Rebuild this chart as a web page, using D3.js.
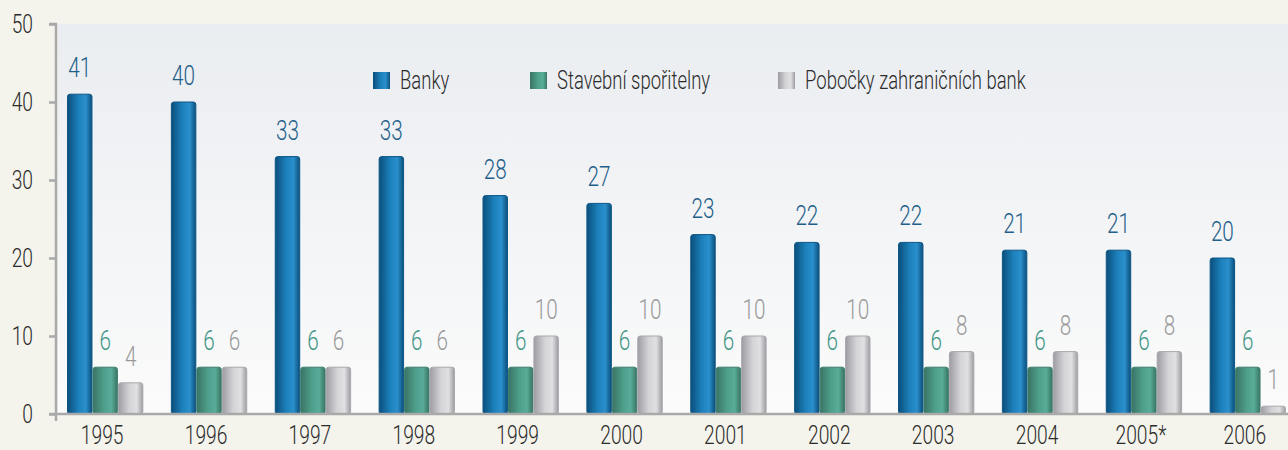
<!DOCTYPE html>
<html>
<head>
<meta charset="utf-8">
<script src="https://cdn.jsdelivr.net/npm/d3@7"></script>
<style>
  body { margin: 0; background: #f4f4ec; }
  svg { display: block; font-family: Roboto, "DejaVu Sans", sans-serif; font-weight: 300; }
</style>
</head>
<body>
<svg></svg>
<script>
const [WIDTH, HEIGHT] = [1288, 450];
const [LEFT, TOP, BOTTOM, RIGHT_END] = [56, 24, 414, 1297];
const SQUEEZE = 0.74; // the original uses a condensed face

const years = ["1995", "1996", "1997", "1998", "1999", "2000", "2001", "2002", "2003", "2004", "2005*", "2006"];
const seriesNames = ["Banky", "Stavební spořitelny", "Pobočky zahraničních bank"];
const banky = [41, 40, 33, 33, 28, 27, 23, 22, 22, 21, 21, 20];
const sporitelny = [6, 6, 6, 6, 6, 6, 6, 6, 6, 6, 6, 6];
const pobocky = [4, 6, 6, 6, 10, 10, 10, 10, 8, 8, 8, 1];
const yTicks = [0, 10, 20, 30, 40, 50];

const seriesValues = [banky, sporitelny, pobocky];
const seriesColors = [
  { dark: "#0b4f7c", mid: "#1c80bb", light: "#2a8fcb", stroke: "#0d5686", label: "#1f5f8a" },
  { dark: "#3a7465", mid: "#4e9f8b", light: "#58ad98", stroke: "#3d7e6e", label: "#3e9685" },
  { dark: "#9c9ca2", mid: "#d4d4d8", light: "#e0e0e3", stroke: "#a8a8ad", label: "#9a9a9a" },
];

// place squeezed text at (x, y)
const squeezeAt = (x, y) => `translate(${x},${y}) scale(${SQUEEZE},1)`;

const svg = d3.select("svg").attr("width", WIDTH).attr("height", HEIGHT);
const defs = svg.append("defs");

// plot background gradient
const bg = defs.append("linearGradient").attr("id", "plotBg")
  .attr("x1", 0).attr("y1", 0).attr("x2", 0).attr("y2", 1);
bg.append("stop").attr("offset", "0%").attr("stop-color", "#eaedf1");
bg.append("stop").attr("offset", "100%").attr("stop-color", "#fbfbfb");

// bar gradients
seriesColors.forEach((c, i) => {
  const g = defs.append("linearGradient").attr("id", `barGrad${i}`)
    .attr("x1", 0).attr("y1", 0).attr("x2", 1).attr("y2", 0);
  g.append("stop").attr("offset", "0%").attr("stop-color", c.dark);
  g.append("stop").attr("offset", "45%").attr("stop-color", c.mid);
  g.append("stop").attr("offset", "75%").attr("stop-color", c.light);
  g.append("stop").attr("offset", "100%").attr("stop-color", c.dark);
});

const y = d3.scaleLinear().domain([0, 50]).range([BOTTOM, TOP]);
const x0 = d3.scaleBand().domain(years).range([LEFT, RIGHT_END])
  .paddingInner(0.265).paddingOuter(0.106);
const x1 = d3.scaleBand().domain(d3.range(3)).range([0, x0.bandwidth()]);

svg.append("rect")
  .attr("x", LEFT + 2).attr("y", TOP)
  .attr("width", WIDTH - LEFT - 2).attr("height", BOTTOM - TOP)
  .attr("fill", "url(#plotBg)");

// Y axis
const yAxis = svg.append("g").attr("transform", `translate(${LEFT},0)`)
  .call(d3.axisLeft(y).tickValues(yTicks).tickSize(7));
yAxis.select(".domain").attr("stroke", "#a9a9a9").attr("stroke-width", 2.5)
  .attr("d", `M-7,${TOP}H0V${BOTTOM + 7}`);
yAxis.selectAll(".tick line").attr("stroke", "#a9a9a9").attr("stroke-width", 2.5);
yAxis.selectAll(".tick text").remove();

svg.selectAll("text.ytick")
  .data(yTicks)
  .enter()
  .append("text")
  .classed("ytick", true)
  .attr("transform", (d) => squeezeAt(33, y(d) + 9))
  .attr("text-anchor", "end")
  .attr("font-size", 26)
  .attr("fill", "#2b2b2b")
  .text((d) => d);

// bars
const groups = svg.selectAll("g.year")
  .data(years)
  .enter()
  .append("g")
  .classed("year", true)
  .attr("transform", (d) => `translate(${x0(d)},0)`);

groups.selectAll("rect")
  .data((d, i) => seriesValues.map((vals, s) => ({ s, v: vals[i] })))
  .enter()
  .append("rect")
  .attr("x", (d) => x1(d.s) + 0.5)
  .attr("y", (d) => y(d.v))
  .attr("width", x1.bandwidth() - 1)
  .attr("height", (d) => y(0) - y(d.v))
  .attr("rx", 2.5)
  .attr("fill", (d) => `url(#barGrad${d.s})`)
  .attr("stroke", (d) => seriesColors[d.s].stroke)
  .attr("stroke-width", 1);

groups.selectAll("text.val")
  .data((d, i) => seriesValues.map((vals, s) => ({ s, v: vals[i] })))
  .enter()
  .append("text")
  .classed("val", true)
  .attr("transform", (d) => squeezeAt(x1(d.s) + x1.bandwidth() / 2, y(d.v) - 17))
  .attr("text-anchor", "middle")
  .attr("font-size", 28)
  .attr("fill", (d) => seriesColors[d.s].label)
  .text((d) => d.v);

// X axis line
svg.append("line")
  .attr("x1", LEFT - 7).attr("x2", WIDTH)
  .attr("y1", BOTTOM).attr("y2", BOTTOM)
  .attr("stroke", "#a9a9a9").attr("stroke-width", 2.5);

svg.selectAll("text.yearlbl")
  .data(years)
  .enter()
  .append("text")
  .classed("yearlbl", true)
  .attr("transform", (d) => squeezeAt(x0(d) + x0.bandwidth() / 2 - 3, 444))
  .attr("text-anchor", "middle")
  .attr("font-size", 26)
  .attr("fill", "#2b2b2b")
  .text((d) => d);

// Legend
const legendX = [373, 530, 778];
const legend = svg.selectAll("g.legend")
  .data(seriesNames)
  .enter()
  .append("g")
  .classed("legend", true)
  .attr("transform", (d, i) => `translate(${legendX[i]},72)`);
legend.append("rect")
  .attr("width", 17).attr("height", 17)
  .attr("fill", (d, i) => `url(#barGrad${i})`);
legend.append("text")
  .attr("transform", squeezeAt(27, 17))
  .attr("font-size", 25)
  .attr("fill", "#2b2b2b")
  .text((d) => d);
</script>
</body>
</html>
